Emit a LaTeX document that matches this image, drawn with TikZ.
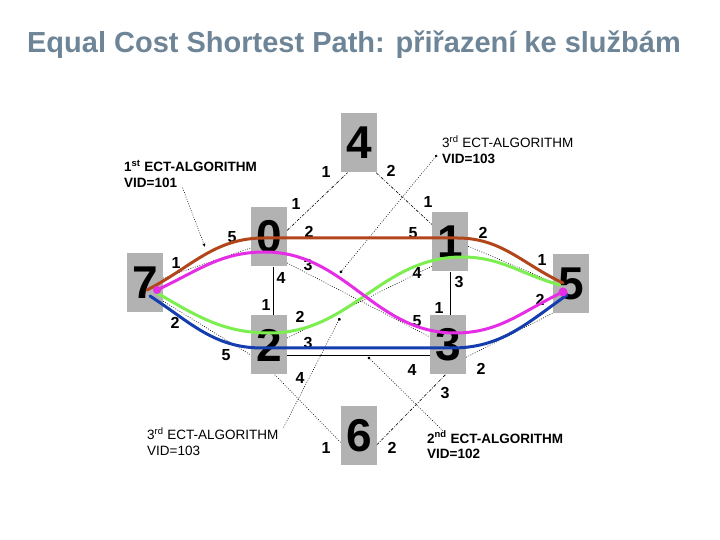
\documentclass[tikz,border=0pt]{standalone}
\usepackage{fontspec}
\setmainfont{Liberation Sans}
\usetikzlibrary{arrows.meta}
\definecolor{ttl}{RGB}{110,133,152}
\definecolor{brnc}{RGB}{178,70,26}
\definecolor{magc}{RGB}{230,45,230}
\definecolor{grnc}{RGB}{125,238,80}
\definecolor{bluc}{RGB}{20,62,175}
\tikzset{
  box/.style={fill=black!30,minimum width=36pt,minimum height=59pt,inner sep=0pt,
              font=\fontsize{46}{46}\selectfont\bfseries},
  prt/.style={font=\fontsize{16}{16}\selectfont\bfseries,inner sep=0pt},
  lk/.style={line width=.6pt},
  lkd/.style={line width=.6pt,dash pattern=on .8pt off 1.6pt},
  lkdd/.style={line width=.6pt,dash pattern=on 3pt off 1.5pt on .8pt off 1.5pt},
  ann/.style={font=\fontsize{13.5}{15.5}\selectfont,align=left,inner sep=0pt,anchor=west},
  par/.style={line width=.6pt,dash pattern=on .8pt off 1.6pt},
  pth/.style={line width=3pt,line cap=round},
}
\begin{document}
\begin{tikzpicture}[x=1pt,y=1pt]
  \useasboundingbox (0,0) rectangle (720,540);
  \node[anchor=base,font=\fontsize{29}{29}\selectfont\bfseries,text=ttl] (ttl) at (354,487)
       {Equal Cost Shortest Path: přiřazení ke službám};
  % bridges
  \node[box] (n4) at (359,397) {4};
  \node[box] (n0) at (269,303) {0};
  \node[box] (n1) at (450,298) {1};
  \node[box] (n7) at (145,257) {7};
  \node[box] (n5) at (571,256) {5};
  \node[box] (n2) at (269,195) {2};
  \node[box] (n3) at (448,195) {3};
  \node[box] (n6) at (359,104) {6};
  % links
  \draw[lk] (n0.east) -- (n0.east -| n1.west);
  \draw[lk] (n0.-82) -- (n2.82);
  \draw[lk] (n1.-90) -- (n1.-90 |- n3.north);
  \draw[lk] (n2.-29) -- (n2.-29 -| n3.west);
  \draw[lkd] (n0.-55) -- (n3.156);
  \draw[lkd] (n2.21) -- (n1.233);
  \draw[lkd] (n1.-13) -- (n5.174);
  \draw[lkd] (n3.-34) -- (n5.238);
  \draw[lkd] (n7.-45) -- (n2.209);
  \draw[lkd] (n7.15) -- (n0.211);
  \draw[lkd] (n2.-79) -- (n6.200);
  \draw[lkdd] (n0.20) -- (n4.-111);
  \draw[lkdd] (n4.-60) -- (n1.136);
  \draw[lkdd] (n3.-95) -- (n6.-25);
  % port numbers
  \foreach \x/\y/\t [count=\i] in {326/368/1,391/369/2,
      296/336/1,309/308/2,232/303/5,308/275/3,281/262/4,
      428/338/1,413/307/5,483/307/2,417/267/4,459/258/3,
      176/277/1,175/217/2,542/280/1,540/240/2,
      266/235/1,300/223/2,226/185/5,308/197/3,300/162/4,
      439/232/1,417/219/5,412/170/4,481/171/2,445/147/3,
      326/92/1,392/92/2}
     \node[prt] (q\i) at (\x,\y) {\t};
  % algorithm notes
  \node[ann] (a1) at (124,366) {\bfseries 1\textsuperscript{st} ECT-ALGORITHM\\\bfseries VID=101};
  \node[ann] (a3t) at (442,390.5) {3\textsuperscript{rd} ECT-ALGORITHM\\\bfseries VID=103};
  \node[ann] (a3b) at (147,98.5) {3\textsuperscript{rd} ECT-ALGORITHM\\VID=103};
  \node[ann] (a2) at (427,95) {\bfseries 2\textsuperscript{nd} ECT-ALGORITHM\\\bfseries VID=102};
  \coordinate (t1) at (205,293);
  \coordinate (t3t) at (340,267);
  \coordinate (t3b) at (340,222);
  \coordinate (t2) at (368,183);
  \draw[par,-{Stealth[length=4pt,width=3pt]}] ([xshift=-8pt]a1.south) -- (t1);
  \draw[par,{Circle[length=2.5pt]}-{Circle[length=3pt]}] ([shift={(-5,-5.5)}]a3t.west) -- (t3t);
  \draw[par,-{Circle[length=3pt]}] ([xshift=5pt]a3b.north east) -- (t3b);
  \draw[par,-{Circle[length=3pt]}] ([xshift=16pt]a2.north west) -- (t2);
  % spanning trees
  \draw[pth,grnc] ([shift={(12,-10)}]n7.center) to[out=-30,in=180] ([shift={(1,12)}]n2.center)
        to[out=0,in=180] ([shift={(12,-15)}]n1.center) to[out=0,in=165] ([shift={(-11,-1)}]n5.center);
  \draw[pth,bluc] ([shift={(5,-13)}]n7.center) to[out=-33,in=180] ([shift={(-7,-3)}]n2.center)
        -- ([shift={(4,-3)}]n3.center) to[out=0,in=215] ([shift={(-4,-11)}]n5.center);
  \draw[pth,brnc] ([shift={(2,-7)}]n7.center) to[out=27,in=180] ([shift={(-5,-1)}]n0.center)
        -- ([shift={(7,4)}]n1.center) to[out=0,in=155] ([shift={(-8,1)}]n5.center);
  \draw[pth,magc] ([shift={(12,-7)}]n7.center) to[out=25,in=180] ([shift={(-4,-15)}]n0.center)
        to[out=0,in=180] ([shift={(7,12)}]n3.center) to[out=0,in=205] ([shift={(-8,-8)}]n5.center);
  \fill[magc] ([shift={(12,-7)}]n7.center) circle (4pt) ([shift={(-8,-8)}]n5.center) circle (4.5pt);
\end{tikzpicture}
\end{document}
